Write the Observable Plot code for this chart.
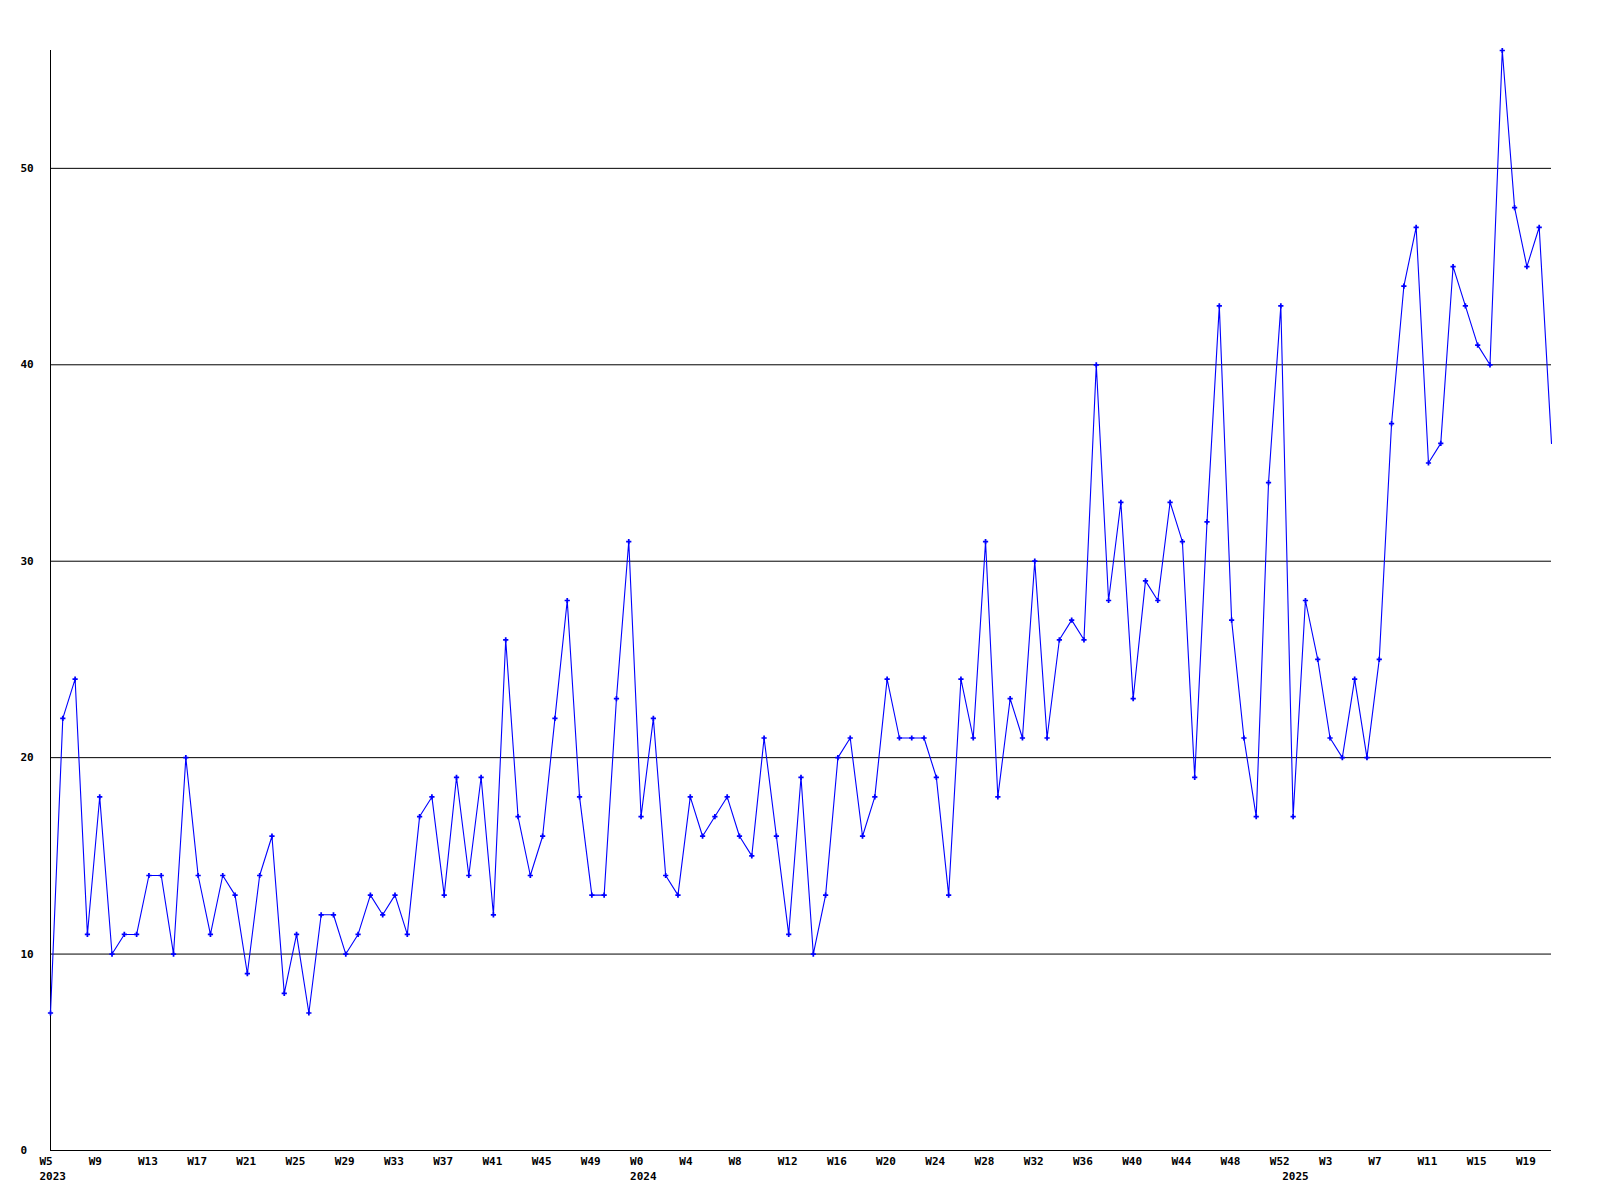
<!DOCTYPE html>
<html>
<head>
<meta charset="utf-8">
<script src="https://cdn.jsdelivr.net/npm/d3@7"></script>
<script src="https://cdn.jsdelivr.net/npm/@observablehq/plot@0.6"></script>
<style>
  html, body { margin: 0; padding: 0; background: #ffffff; }
  #chart svg { display: block; }
</style>
</head>
<body>
<div id="chart"></div>
<script>
// Periods: weekly, from 2023 W5 to 2025 W21
const years = [2023, 2024, 2025];
const firstWeeks = [5, 0, 0];
const lastWeeks = [52, 52, 21];

// Weekly counts
const counts = [
  7, 22, 24, 11, 18, 10, 11, 11, 14, 14, 10, 20, 14, 11, 14, 13, 9, 14, 16, 8,
  11, 7, 12, 12, 10, 11, 13, 12, 13, 11, 17, 18, 13, 19, 14, 19, 12, 26, 17, 14,
  16, 22, 28, 18, 13, 13, 23, 31,
  17, 22, 14, 13, 18, 16, 17, 18, 16, 15, 21, 16, 11, 19, 10, 13, 20, 21, 16, 18,
  24, 21, 21, 21, 19, 13, 24, 21, 31, 18, 23, 21, 30, 21, 26, 27, 26, 40, 28, 33,
  23, 29, 28, 33, 31, 19, 32, 43, 27, 21, 17, 34, 43,
  17, 28, 25, 21, 20, 24, 20, 25, 37, 44, 47, 35, 36, 45, 43, 41, 40, 56, 48, 45,
  47, 36
];

const yTickValues = [0, 10, 20, 30, 40, 50];
const gridValues = [10, 20, 30, 40, 50];
const labelStep = 4;

// Build table
const rows = [];
years.forEach((yr, k) => {
  for (let w = firstWeeks[k]; w <= lastWeeks[k]; w++) {
    rows.push({ i: rows.length, year: yr, week: w, first: w === firstWeeks[k] });
  }
});
rows.forEach((r, j) => { r.value = counts[j]; });

const tickRows = rows.filter(r => r.i % labelStep === 0);
const yearRows = rows.filter(r => r.first);

const chart = Plot.plot({
  width: 1600,
  height: 1200,
  marginTop: 50,
  marginBottom: 50,
  marginLeft: 50,
  marginRight: 49,
  x: { type: "linear", domain: [0, rows.length - 1], axis: null },
  y: { domain: [0, d3.max(counts)], axis: null },
  style: {
    fontFamily: "'DejaVu Sans Mono', 'Liberation Mono', monospace",
    fontSize: "11px",
    fontWeight: "bold",
    background: "#ffffff",
    color: "#000000"
  },
  marks: [
    Plot.ruleY(gridValues, { stroke: "#000000", strokeWidth: 1 }),
    Plot.ruleY([0], { stroke: "#000000", strokeWidth: 1 }),
    Plot.ruleX([0], { stroke: "#000000", strokeWidth: 1 }),
    Plot.line(rows, { x: "i", y: "value", stroke: "#0000ff", strokeWidth: 1.1 }),
    Plot.dot(rows.slice(0, -1), { x: "i", y: "value", symbol: "cross", fill: "#0000ff", stroke: null, r: 2.2 }),
    Plot.text(yTickValues, { y: d => d, text: d => String(d), frameAnchor: "left", dx: -30, textAnchor: "start", fill: "#000000" }),
    Plot.text(tickRows, { x: "i", text: d => "W" + d.week, frameAnchor: "bottom", textAnchor: "start", dx: -11, dy: 14, fill: "#000000" }),
    Plot.text(yearRows, { x: "i", text: d => String(d.year), frameAnchor: "bottom", textAnchor: "start", dx: -11, dy: 29, fill: "#000000" })
  ]
});
document.getElementById("chart").appendChild(chart);
</script>
</body>
</html>
